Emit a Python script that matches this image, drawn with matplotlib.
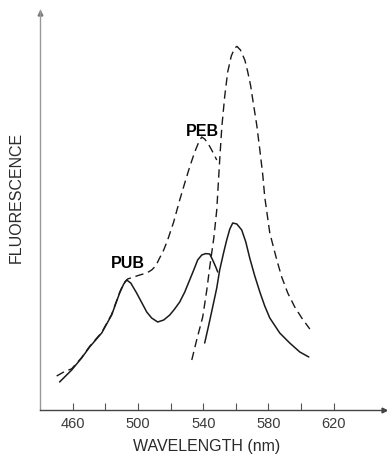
import matplotlib
matplotlib.use("Agg")
import matplotlib.pyplot as plt

# ---- data (wavelength nm, fluorescence arbitrary units) ----
pub_solid_nm = [452.0, 459.4, 465.5, 470.4, 477.8, 483.9, 488.8, 491.3, 493.1, 495.6, 499.2,
                505.4, 508.4, 512.1, 515.8, 519.5, 522.5, 525.6, 528.7, 531.7, 534.2, 536.6,
                539.1, 541.5, 544.0, 545.8, 547.7, 548.9]
pub_solid_f = [7.0, 10.0, 13.0, 15.75, 19.25, 23.75, 29.25, 31.5, 32.5, 31.75, 29.25,
               24.5, 23.0, 22.0, 22.5, 23.75, 25.25, 27.0, 29.5, 32.5, 35.0, 37.5,
               38.75, 39.1, 39.0, 37.5, 35.75, 34.5]

peak560_solid_nm = [540.9, 543.4, 545.8, 548.3, 550.1, 552.6, 554.4, 556.3, 558.1, 560.6, 563.6,
                    566.1, 568.5, 571.6, 574.7, 577.7, 580.8, 586.9, 593.0, 599.2, 604.7]
peak560_solid_f = [16.75, 21.25, 25.75, 30.5, 35.0, 39.5, 42.5, 45.25, 46.75, 46.5, 45.0,
                   42.0, 38.0, 33.5, 29.5, 26.0, 23.0, 19.25, 16.75, 14.5, 13.25]

peb_dashed_nm = [450.2, 455.0, 459.4, 465.5, 470.4, 477.8, 483.9, 488.8, 491.3, 493.7, 497.4,
                 501.1, 505.4, 508.4, 510.9, 513.3, 515.8, 518.2, 521.9, 525.6, 528.7, 531.7,
                 534.8, 537.3, 539.1, 540.9, 542.8, 545.2, 548.3]
peb_dashed_f = [8.5, 9.6, 10.3, 13.1, 15.9, 19.4, 23.9, 29.4, 31.7, 32.75, 33.25,
                33.75, 34.25, 35.0, 36.0, 38.0, 40.0, 42.5, 47.0, 52.5, 56.75, 60.75,
                64.5, 67.0, 68.25, 67.75, 66.75, 65.0, 62.5]

peak560_dashed_nm = [533.0, 536.0, 539.7, 542.2, 544.0, 546.5, 548.3, 550.1, 551.4, 553.2, 555.0,
                     557.2, 559.3, 560.7, 562.8, 565.5, 567.3, 569.1, 570.4, 572.8, 574.7,
                     576.5, 577.7, 580.8, 585.1, 588.1, 591.8, 596.1, 600.4, 605.3]
peak560_dashed_f = [12.5, 17.5, 23.25, 30.0, 35.75, 43.0, 50.0, 62.5, 70.75, 78.5, 84.5,
                    88.5, 90.5, 90.9, 90.0, 87.5, 84.5, 81.0, 77.5, 71.25, 65.0,
                    58.75, 53.25, 44.25, 37.5, 33.25, 29.25, 25.75, 23.0, 20.25]

tick_positions = [460, 480, 500, 520, 540, 560, 580, 600, 620]
tick_labels = ["460", "", "500", "", "540", "", "580", "", "620"]

W, H = 387, 454
fig = plt.figure(figsize=(W / 100, H / 100), dpi=100)
ax = fig.add_axes([40 / W, 1 - 410 / H, (386 - 40) / W, 400 / H])
ax.set_xlim(440, 652)
ax.set_ylim(0, 100)

lc = "#1a1a1a"
ax.plot(pub_solid_nm, pub_solid_f, color=lc, lw=1.1, solid_capstyle="round",
        solid_joinstyle="round")
ax.plot(peak560_solid_nm, peak560_solid_f, color=lc, lw=1.1, solid_capstyle="round",
        solid_joinstyle="round")
ax.plot(peb_dashed_nm, peb_dashed_f, color=lc, lw=1.0, dashes=(6, 3.5))
ax.plot(peak560_dashed_nm, peak560_dashed_f, color=lc, lw=1.0, dashes=(6, 3.5))

font = "Liberation Sans"
ax.text(493.9, 35.5, "PUB", ha="center", va="baseline", fontsize=11.5,
        fontweight="bold", family=font)
ax.text(539.7, 68.5, "PEB", ha="center", va="baseline", fontsize=11.5,
        fontweight="bold", family=font)

for s in ["top", "right"]:
    ax.spines[s].set_visible(False)
ax.spines["bottom"].set_color("#444444")
ax.spines["left"].set_color("#999999")
ax.spines["bottom"].set_linewidth(1.0)
ax.spines["left"].set_linewidth(1.0)

ax.set_yticks([])
ax.set_xticks(tick_positions)
ax.set_xticklabels(tick_labels, family=font, fontsize=10.5, color="#3a3a3a")
ax.tick_params(axis="x", direction="in", length=5, width=0.8, color="#555555", pad=5)

# axis arrow heads
ax.plot([0], [0.993], marker="^", ms=3.5, color="#777777", transform=ax.transAxes, clip_on=False)
ax.plot([0.995], [0], marker=">", ms=3.5, color="#444444", transform=ax.transAxes, clip_on=False)

fig.text(207 / W, 1 - 446 / H, "WAVELENGTH (nm)", ha="center", va="center",
         fontsize=11.5, family=font, color="#2a2a2a")
fig.text(16 / W, 1 - 197 / H, "FLUORESCENCE", ha="center", va="center", rotation=90,
         fontsize=11.5, family=font, color="#2a2a2a")

fig.savefig("out.png", dpi=100)
